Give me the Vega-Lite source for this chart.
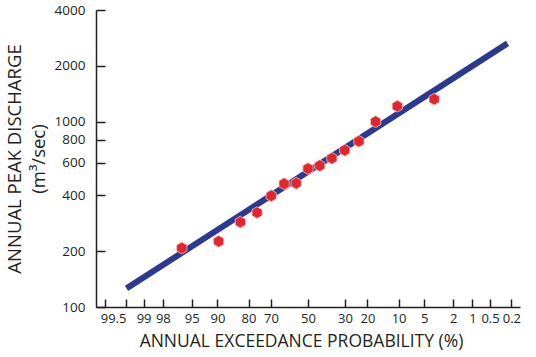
{
  "$schema": "https://vega.github.io/schema/vega-lite/v6.json",
  "width": 424,
  "height": 297,
  "autosize": {"type": "none"},
  "padding": {"left": 96, "top": 10, "right": 16, "bottom": 50},
  "background": "white",
  "config": {
    "view": {"stroke": null},
    "font": "Open Sans",
    "axis": {
      "grid": false,
      "domainColor": "#231f20",
      "tickColor": "#231f20",
      "labelColor": "#231f20",
      "titleColor": "#231f20",
      "domainWidth": 1.5,
      "tickWidth": 1.5,
      "labelFont": "Open Sans",
      "titleFont": "Open Sans",
      "titleFontWeight": "normal"
    }
  },
  "datasets": {
    "fit": [
      {"z": -2.568, "discharge": 126},
      {"z": 2.823, "discharge": 2642}
    ],
    "obs": [
      {"rank": 1, "exceedance": 3.70, "z": 1.786, "discharge": 1321},
      {"rank": 2, "exceedance": 10.32, "z": 1.264, "discharge": 1211},
      {"rank": 3, "exceedance": 16.93, "z": 0.957, "discharge": 999},
      {"rank": 4, "exceedance": 23.54, "z": 0.721, "discharge": 783},
      {"rank": 5, "exceedance": 30.16, "z": 0.520, "discharge": 701},
      {"rank": 6, "exceedance": 36.77, "z": 0.338, "discharge": 634},
      {"rank": 7, "exceedance": 43.39, "z": 0.167, "discharge": 579},
      {"rank": 8, "exceedance": 50.00, "z": 0.0, "discharge": 558},
      {"rank": 9, "exceedance": 56.61, "z": -0.167, "discharge": 465},
      {"rank": 10, "exceedance": 63.23, "z": -0.338, "discharge": 462},
      {"rank": 11, "exceedance": 69.84, "z": -0.520, "discharge": 398},
      {"rank": 12, "exceedance": 76.46, "z": -0.721, "discharge": 323},
      {"rank": 13, "exceedance": 83.07, "z": -0.957, "discharge": 287},
      {"rank": 14, "exceedance": 89.68, "z": -1.264, "discharge": 226},
      {"rank": 15, "exceedance": 96.30, "z": -1.786, "discharge": 208}
    ]
  },
  "encoding": {
    "x": {
      "field": "z",
      "type": "quantitative",
      "scale": {"domain": [-3, 3], "nice": false, "zero": false},
      "axis": {
        "values": [-2.8782, -2.5758, -2.3263, -2.0537, -1.6449, -1.2816, -0.8416, -0.5244, 0, 0.5244, 0.8416, 1.2816, 1.6449, 2.0537, 2.3263, 2.5758, 2.8782],
        "labelExpr": "datum.value < -2.7 ? '' : format(100 * (1 - cumulativeNormal(datum.value)), '.3~g')",
        "labelAlign": {"condition": {"test": "abs(datum.value + 2.5758) < 0.01", "value": "right"}, "value": "center"},
        "tickSize": -8,
        "labelPadding": 13,
        "labelFontSize": 13,
        "labelOverlap": false,
        "labelFlush": false,
        "labelBound": false,
        "title": "ANNUAL EXCEEDANCE PROBABILITY (%)",
        "titleFontSize": 17.5,
        "titlePadding": 7,
        "titleX": 205
      }
    },
    "y": {
      "field": "discharge",
      "type": "quantitative",
      "scale": {"type": "log", "domain": [100, 4000], "nice": false},
      "axis": {
        "values": [100, 200, 400, 600, 800, 1000, 2000, 4000],
        "format": "d",
        "tickSize": -9,
        "labelPadding": 20,
        "labelFontSize": 13.5,
        "labelOverlap": false,
        "labelFlush": false,
        "labelBound": false,
        "title": ["ANNUAL PEAK DISCHARGE", "(m³/sec)"],
        "titleFontSize": 18.5,
        "titleLineHeight": 24,
        "titlePadding": 6
      }
    }
  },
  "layer": [
    {
      "data": {"name": "fit"},
      "mark": {"type": "line", "color": "#2b3990", "strokeWidth": 6, "strokeCap": "butt"}
    },
    {
      "data": {"name": "obs"},
      "mark": {
        "type": "point",
        "shape": "M0,-1L0.866,-0.5L0.866,0.5L0,1L-0.866,0.5L-0.866,-0.5Z",
        "filled": true,
        "fill": "#e2262b",
        "stroke": "#f3c4c4",
        "strokeWidth": 0.8,
        "size": 140,
        "opacity": 1
      }
    }
  ]
}
